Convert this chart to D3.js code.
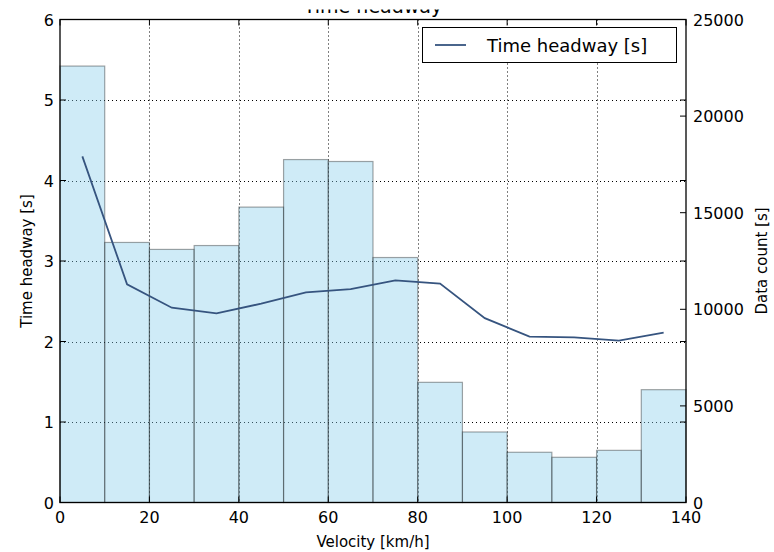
<!DOCTYPE html>
<html>
<head>
<meta charset="utf-8">
<title>Time headway</title>
<script src="https://cdn.jsdelivr.net/npm/d3@7"></script>
<style>
  body { margin: 0; background: #fff; }
  text { font-family: "DejaVu Sans", sans-serif; fill: #000; }
</style>
</head>
<body>
<div id="chart"></div>
<script>
// velocity bins [km/h]
var binEdges = [0, 10, 20, 30, 40, 50, 60, 70, 80, 90, 100, 110, 120, 130, 140];
// data count per bin (right axis)
var counts = [22590, 13460, 13100, 13300, 15290, 17750, 17650, 12680, 6220, 3650, 2600, 2340, 2700, 5840];
// mean time headway per bin center (left axis)
var centers = [5, 15, 25, 35, 45, 55, 65, 75, 85, 95, 105, 115, 125, 135];
var headway = [4.30, 2.71, 2.42, 2.35, 2.47, 2.61, 2.65, 2.76, 2.72, 2.29, 2.06, 2.05, 2.01, 2.11];

var xTicks = [0, 20, 40, 60, 80, 100, 120, 140];
var yTicks = [0, 1, 2, 3, 4, 5, 6];
var y2Ticks = [0, 5000, 10000, 15000, 20000, 25000];

var W = 774, H = 552;
// note: "top" is a reserved window prop, so plot edges get their own names
var pL = 60, pR = 686, pT = 19.5, pB = 502.5;

var svg = d3.select("#chart").append("svg").attr("width", W).attr("height", H);

var x = d3.scaleLinear().domain([0, 140]).range([pL, pR]);
var y = d3.scaleLinear().domain([0, 6]).range([pB, pT]);
var y2 = d3.scaleLinear().domain([0, 25000]).range([pB, pT]);

// title, cut off at top of the picture
svg.append("clipPath").attr("id", "tclip")
  .append("rect").attr("x", 0).attr("y", 9.5).attr("width", W).attr("height", 20);
svg.append("text")
  .attr("clip-path", "url(#tclip)")
  .attr("x", (pL + pR) / 2).attr("y", 13)
  .attr("text-anchor", "middle").style("font-size", "19px")
  .text("Time headway");

// grid
var grid = svg.append("g").attr("stroke", "#000").attr("stroke-width", 1)
  .attr("stroke-dasharray", "1,3");
grid.selectAll(".gx").data(xTicks.slice(1, -1)).enter().append("line")
  .attr("x1", d => Math.round(x(d)) + 0.5).attr("x2", d => Math.round(x(d)) + 0.5)
  .attr("y1", pT).attr("y2", pB);
grid.selectAll(".gy").data(yTicks.slice(1, -1)).enter().append("line")
  .attr("y1", d => Math.round(y(d)) + 0.5).attr("y2", d => Math.round(y(d)) + 0.5)
  .attr("x1", pL).attr("x2", pR);

// histogram bars
svg.append("g").selectAll("rect").data(counts).enter().append("rect")
  .attr("x", (d, i) => x(binEdges[i]))
  .attr("width", (d, i) => x(binEdges[i + 1]) - x(binEdges[i]))
  .attr("y", d => y2(d))
  .attr("height", d => pB - y2(d))
  .attr("fill", "#87ceeb").attr("fill-opacity", 0.4)
  .attr("stroke", "#000").attr("stroke-opacity", 0.35).attr("stroke-width", 1.2);

// headway line
var line = d3.line().x((d, i) => x(centers[i])).y(d => y(d));
svg.append("path").datum(headway)
  .attr("d", line).attr("fill", "none")
  .attr("stroke", "#36547f").attr("stroke-width", 1.8);

// frame
svg.append("rect").attr("x", pL).attr("y", pT)
  .attr("width", pR - pL).attr("height", pB - pT)
  .attr("fill", "none").attr("stroke", "#000").attr("stroke-width", 1.3);

// ticks (inside, classic style)
var tk = svg.append("g").attr("stroke", "#000").attr("stroke-width", 1);
var tl = 6;
xTicks.forEach(function (d) {
  tk.append("line").attr("x1", x(d)).attr("x2", x(d)).attr("y1", pB).attr("y2", pB - tl);
  tk.append("line").attr("x1", x(d)).attr("x2", x(d)).attr("y1", pT).attr("y2", pT + tl);
});
yTicks.forEach(function (d) {
  tk.append("line").attr("y1", y(d)).attr("y2", y(d)).attr("x1", pL).attr("x2", pL + tl);
  tk.append("line").attr("y1", y(d)).attr("y2", y(d)).attr("x1", pR).attr("x2", pR - tl);
});
y2Ticks.forEach(function (d) {
  tk.append("line").attr("y1", y2(d)).attr("y2", y2(d)).attr("x1", pR).attr("x2", pR - tl);
});

// tick labels
svg.append("g").selectAll("text").data(xTicks).enter().append("text")
  .attr("x", d => x(d)).attr("y", pB + 20)
  .attr("text-anchor", "middle").style("font-size", "16px").text(d => d);
svg.append("g").selectAll("text").data(yTicks).enter().append("text")
  .attr("x", pL - 6).attr("y", d => y(d) + 6)
  .attr("text-anchor", "end").style("font-size", "16px").text(d => d);
svg.append("g").selectAll("text").data(y2Ticks).enter().append("text")
  .attr("x", pR + 7).attr("y", d => y2(d) + 6)
  .attr("text-anchor", "start").style("font-size", "16px").text(d => d);

// axis labels
svg.append("text").attr("x", (pL + pR) / 2).attr("y", 547)
  .attr("text-anchor", "middle").style("font-size", "15px").text("Velocity [km/h]");
svg.append("text").attr("transform", "translate(32," + ((pT + pB) / 2) + ") rotate(-90)")
  .attr("text-anchor", "middle").style("font-size", "15px").text("Time headway [s]");
svg.append("text").attr("transform", "translate(767," + ((pT + pB) / 2) + ") rotate(-90)")
  .attr("text-anchor", "middle").style("font-size", "15px").text("Data count [s]");

// legend
var lg = svg.append("g");
lg.append("rect").attr("x", 422.5).attr("y", 27.5).attr("width", 254).attr("height", 35)
  .attr("fill", "#fff").attr("stroke", "#000").attr("stroke-width", 1);
lg.append("line").attr("x1", 435).attr("x2", 466).attr("y1", 45).attr("y2", 45)
  .attr("stroke", "#36547f").attr("stroke-width", 1.8);
lg.append("text").attr("x", 487).attr("y", 52).style("font-size", "18px").text("Time headway [s]");
</script>
</body>
</html>
